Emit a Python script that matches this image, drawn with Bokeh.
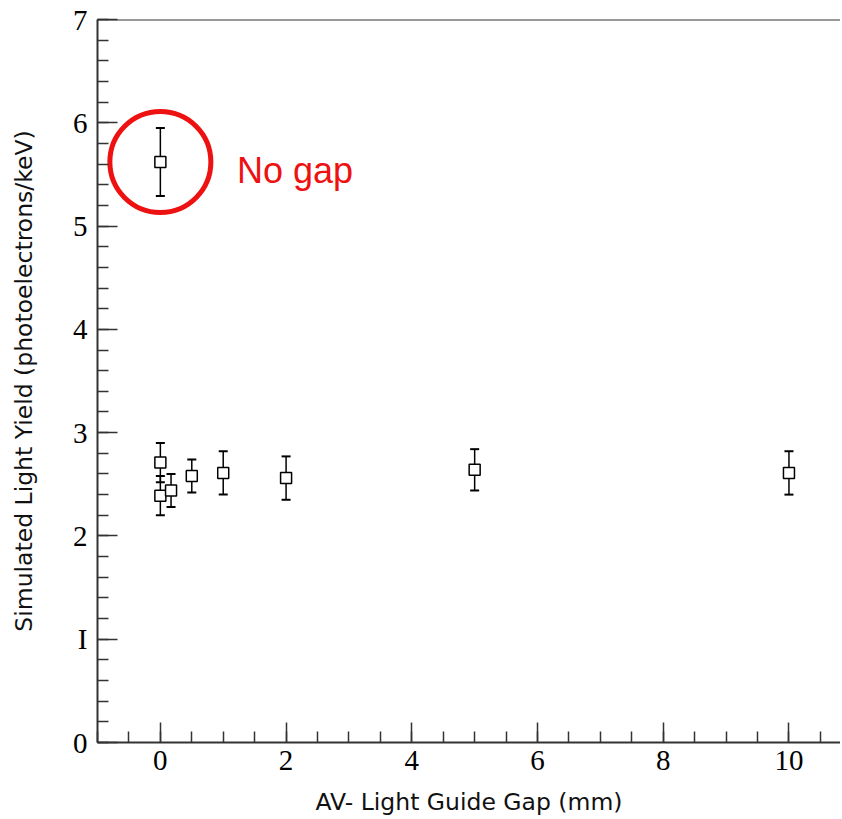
from bokeh.plotting import figure
from bokeh.models import ColumnDataSource, Whisker, Span, Label, Range1d, FixedTicker, TeeHead
from bokeh.embed import file_html
from bokeh.resources import INLINE

# Data
gap_mm = [0.0, 0.0, 0.17, 0.5, 1.0, 2.0, 5.0, 10.0]
light_yield = [2.71, 2.39, 2.44, 2.58, 2.61, 2.56, 2.64, 2.61]
yield_err = [0.19, 0.19, 0.16, 0.16, 0.21, 0.21, 0.20, 0.21]

nogap_x = [0.0]
nogap_y = [5.62]
nogap_err = [0.33]

x_ticks = [0, 2, 4, 6, 8, 10]
y_ticks = [0, 1, 2, 3, 4, 5, 6, 7]
y_tick_labels = {0: "0", 1: "I", 2: "2", 3: "3", 4: "4", 5: "5", 6: "6", 7: "7"}

p = figure(width=840, height=818, output_backend="svg", toolbar_location=None,
           x_range=Range1d(-1.0, 10.82), y_range=Range1d(0, 7),
           min_border_left=97, min_border_right=0, min_border_top=19, min_border_bottom=74)
p.outline_line_color = None
p.grid.grid_line_color = None
p.background_fill_color = "white"

for ax in (p.xaxis[0], p.yaxis[0]):
    ax.axis_line_color = "#333333"
    ax.axis_line_width = 2
    ax.major_tick_in = 20
    ax.major_tick_out = 0
    ax.minor_tick_in = 11
    ax.minor_tick_out = 0
    ax.major_tick_line_color = "#333333"
    ax.major_tick_line_width = 1.5
    ax.minor_tick_line_color = "#333333"
    ax.minor_tick_line_width = 1.5
    ax.major_label_text_font = "Liberation Serif"
    ax.major_label_text_font_size = "29px"
    ax.major_label_text_color = "black"
    ax.axis_label_text_font = "DejaVu Sans"
    ax.axis_label_text_font_size = "23.5px"
    ax.axis_label_text_font_style = "normal"
    ax.axis_label_text_color = "#111111"

p.xaxis.ticker = FixedTicker(ticks=x_ticks, minor_ticks=[i * 0.5 for i in range(-2, 22)])
p.yaxis.ticker = FixedTicker(ticks=y_ticks, minor_ticks=[i * 0.2 for i in range(0, 36)])
p.yaxis.major_label_overrides = y_tick_labels
p.xaxis.axis_label = "AV- Light Guide Gap (mm)"
p.yaxis.axis_label = "Simulated Light Yield (photoelectrons/keV)"
p.xaxis.major_label_standoff = 8
p.xaxis.axis_label_standoff = 15
p.yaxis.major_label_standoff = 10
p.yaxis.axis_label_standoff = 32

top = Span(location=y_ticks[-1], dimension="width", line_color="#333333", line_width=2)
p.add_layout(top)

src = ColumnDataSource(dict(x=gap_mm + nogap_x, y=light_yield + nogap_y,
                            lo=[a - b for a, b in zip(light_yield + nogap_y, yield_err + nogap_err)],
                            hi=[a + b for a, b in zip(light_yield + nogap_y, yield_err + nogap_err)]))
w = Whisker(source=src, base="x", lower="lo", upper="hi", line_color="black", line_width=1.5,
            upper_head=TeeHead(size=9, line_color="black", line_width=2),
            lower_head=TeeHead(size=9, line_color="black", line_width=2))
p.add_layout(w)
p.scatter("x", "y", source=src, marker="square", size=11, fill_color="white",
          line_color="black", line_width=1.5)

# Red circle highlighting the no-gap point
p.scatter(nogap_x, nogap_y, marker="circle", size=101, fill_color=None,
          line_color="#ee1111", line_width=5)
lbl = Label(x=nogap_x[0] + 1.22, y=nogap_y[0] - 0.08, text="No gap", text_color="#ee1111",
            text_font="Liberation Sans", text_font_size="36px", text_baseline="alphabetic")
p.add_layout(lbl)

open("out.html", "w").write(file_html(p, INLINE))
